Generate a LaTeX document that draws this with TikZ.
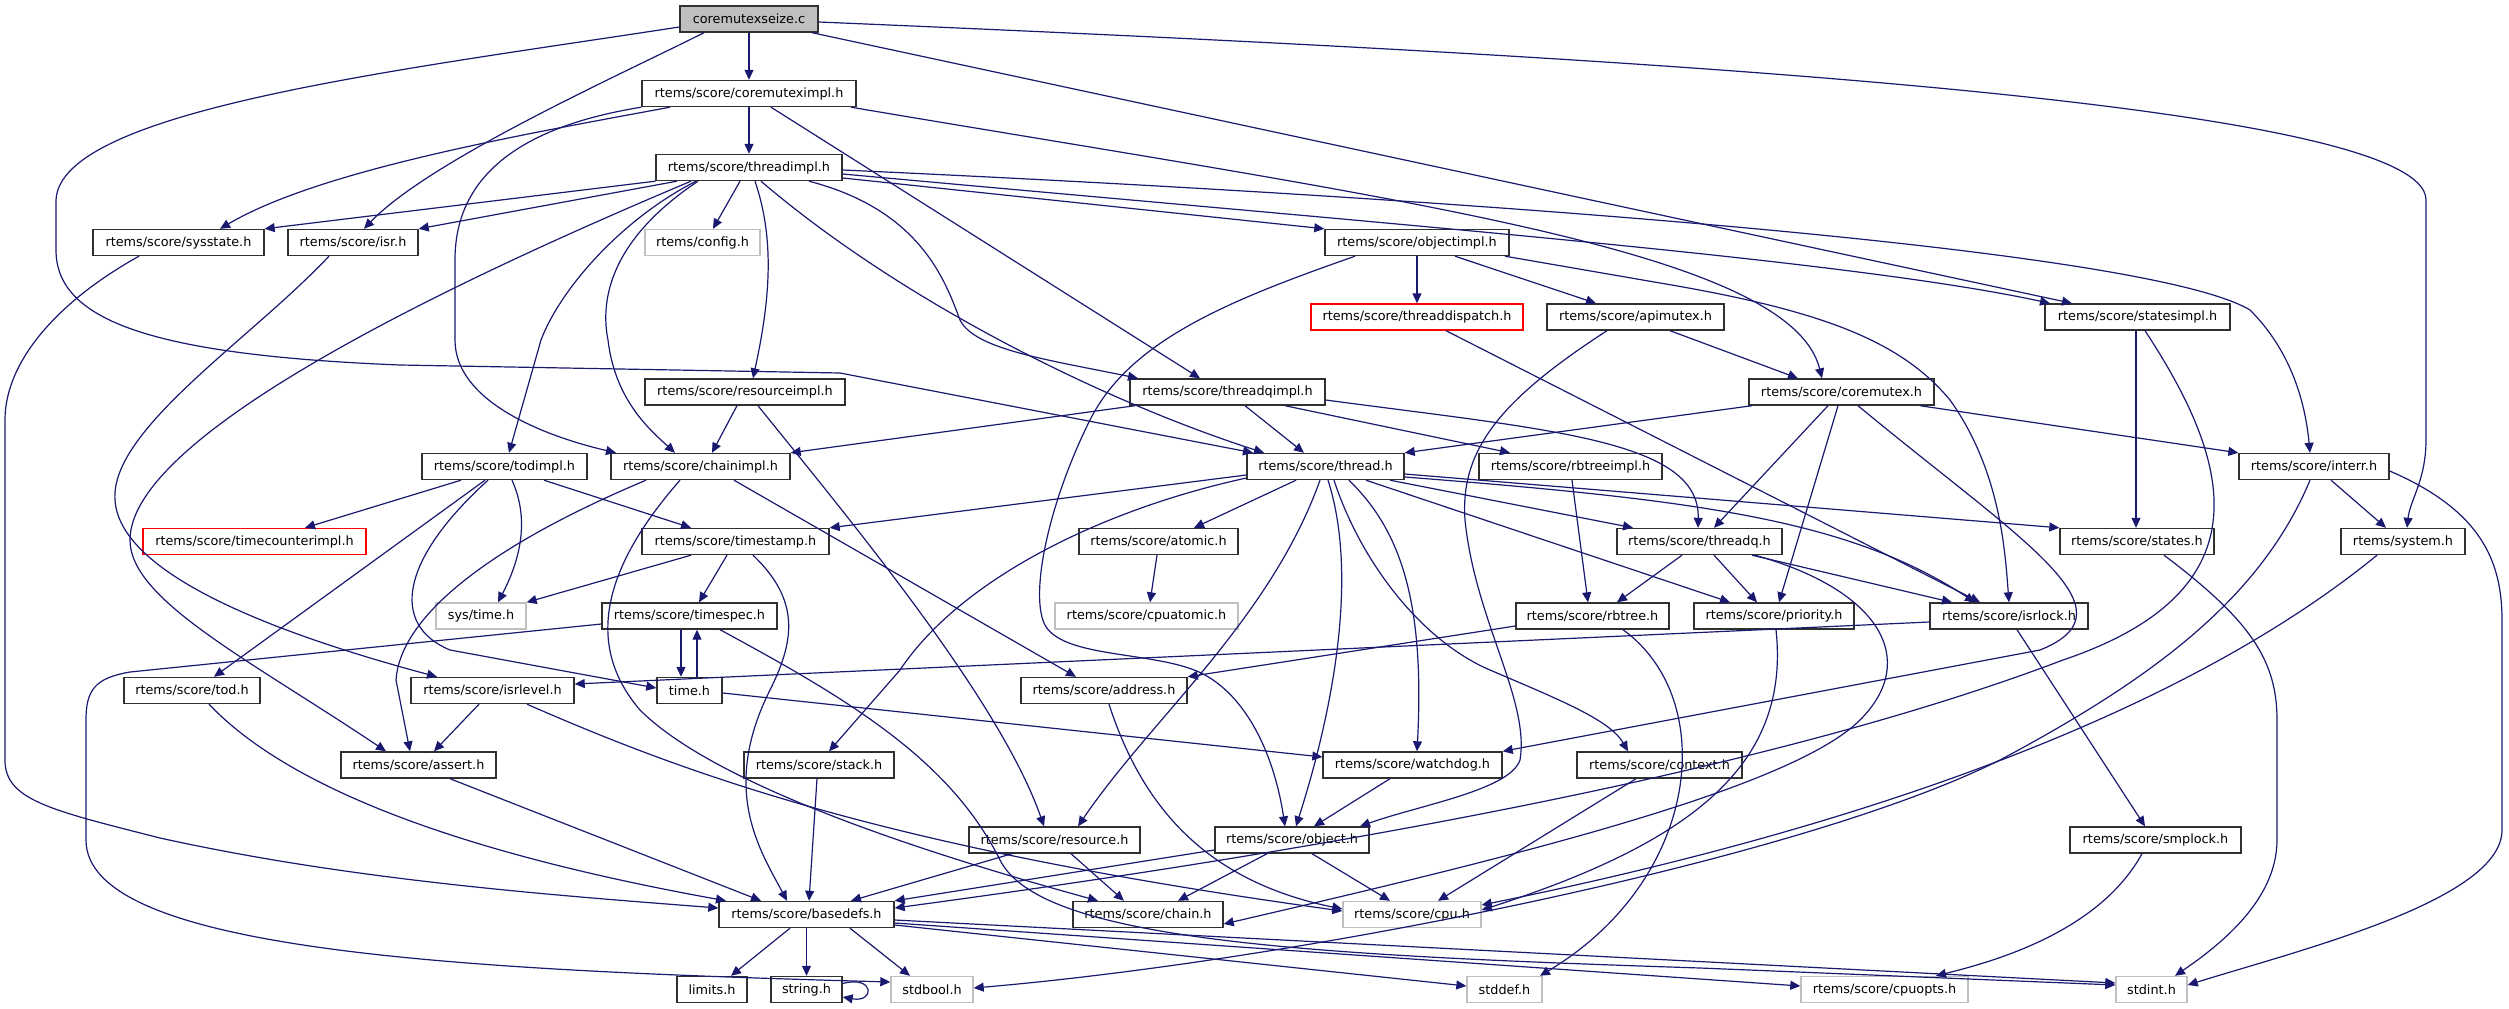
\documentclass[tikz,border=0pt]{standalone}
\usepackage{fontspec}
\setmainfont{DejaVu Sans}
\usetikzlibrary{arrows.meta}
\definecolor{edgec}{HTML}{191970}
\definecolor{grayb}{HTML}{BFBFBF}
\definecolor{nodeb}{HTML}{303030}
\begin{document}
\begin{tikzpicture}[x=1pt,y=-1pt,
  nd/.style={draw=nodeb, line width=1.4pt, fill=white, minimum height=26pt, inner sep=0pt, font=\fontsize{12.8pt}{15pt}\selectfont},
  gr/.style={nd, draw=grayb},
  rd/.style={nd, draw=red},
  e/.style={draw=edgec, line width=1.2pt, -{Triangle[length=10pt,width=9pt]}}]
\fill[white] (0,0) rectangle (2509,1009);
\useasboundingbox (0,0) rectangle (2509,1009);
% nodes
\node[nd, fill=grayb, minimum width=138pt] (seize) at (749,19) {coremutexseize.c};
\node[nd, minimum width=214pt] (cmi) at (749,93.5) {rtems/score/coremuteximpl.h};
\node[nd, minimum width=186pt] (thi) at (749,167.5) {rtems/score/threadimpl.h};
\node[nd, minimum width=171pt] (sysst) at (178.5,242.5) {rtems/score/sysstate.h};
\node[nd, minimum width=130pt] (isr) at (353,242.5) {rtems/score/isr.h};
\node[gr, minimum width=115pt] (config) at (702.5,242.5) {rtems/config.h};
\node[nd, minimum width=184pt] (obji) at (1417,242.5) {rtems/score/objectimpl.h};
\node[rd, minimum width=212pt] (tdisp) at (1417,317) {rtems/score/threaddispatch.h};
\node[nd, minimum width=177pt] (apim) at (1635.5,317) {rtems/score/apimutex.h};
\node[nd, minimum width=185pt] (sti) at (2137.5,317) {rtems/score/statesimpl.h};
\node[nd, minimum width=200pt] (resi) at (745,392) {rtems/score/resourceimpl.h};
\node[nd, minimum width=195pt] (tqi) at (1227.5,392) {rtems/score/threadqimpl.h};
\node[nd, minimum width=185pt] (cm) at (1841.5,392) {rtems/score/coremutex.h};
\node[nd, minimum width=165pt] (todi) at (504.5,466.5) {rtems/score/todimpl.h};
\node[nd, minimum width=179pt] (chi) at (700.5,466.5) {rtems/score/chainimpl.h};
\node[nd, minimum width=157pt] (thr) at (1325.5,466.5) {rtems/score/thread.h};
\node[nd, minimum width=183pt] (rbi) at (1570.5,466.5) {rtems/score/rbtreeimpl.h};
\node[nd, minimum width=150pt] (interr) at (2314,466.5) {rtems/score/interr.h};
\node[rd, minimum width=223pt] (tci) at (254.5,541.5) {rtems/score/timecounterimpl.h};
\node[nd, minimum width=187pt] (tstamp) at (735.5,541.5) {rtems/score/timestamp.h};
\node[nd, minimum width=159pt] (atomic) at (1158.5,541.5) {rtems/score/atomic.h};
\node[nd, minimum width=165pt] (tq) at (1699.5,541.5) {rtems/score/threadq.h};
\node[nd, minimum width=154pt] (states) at (2137,541.5) {rtems/score/states.h};
\node[nd, minimum width=124pt] (system) at (2403,541.5) {rtems/system.h};
\node[gr, minimum width=90pt] (systime) at (481,616) {sys/time.h};
\node[nd, minimum width=175pt] (tspec) at (689.5,616) {rtems/score/timespec.h};
\node[gr, minimum width=183pt] (cpuat) at (1146.5,616) {rtems/score/cpuatomic.h};
\node[nd, minimum width=153pt] (rbt) at (1592.5,616) {rtems/score/rbtree.h};
\node[nd, minimum width=160pt] (prio) at (1774,616) {rtems/score/priority.h};
\node[nd, minimum width=158pt] (isrl) at (2009,616) {rtems/score/isrlock.h};
\node[nd, minimum width=136pt] (tod) at (192,690.5) {rtems/score/tod.h};
\node[nd, minimum width=163pt] (isrlev) at (492.5,690.5) {rtems/score/isrlevel.h};
\node[nd, minimum width=65pt] (time) at (689.5,690.5) {time.h};
\node[nd, minimum width=166pt] (addr) at (1104,690.5) {rtems/score/address.h};
\node[nd, minimum width=155pt] (assert) at (418.5,765) {rtems/score/assert.h};
\node[nd, minimum width=150pt] (stack) at (819,765) {rtems/score/stack.h};
\node[nd, minimum width=179pt] (wdog) at (1412.5,765) {rtems/score/watchdog.h};
\node[nd, minimum width=165pt] (ctx) at (1659.5,765) {rtems/score/context.h};
\node[nd, minimum width=171pt] (res) at (1054.5,840) {rtems/score/resource.h};
\node[nd, minimum width=154pt] (obj) at (1292,840) {rtems/score/object.h};
\node[nd, minimum width=171pt] (smp) at (2155.5,840) {rtems/score/smplock.h};
\node[nd, minimum width=175pt] (bdefs) at (806.5,914.5) {rtems/score/basedefs.h};
\node[nd, minimum width=150pt] (chain) at (1148,914.5) {rtems/score/chain.h};
\node[gr, minimum width=138pt] (cpu) at (1412,914.5) {rtems/score/cpu.h};
\node[nd, minimum width=70pt] (limits) at (712,989.5) {limits.h};
\node[nd, minimum width=71pt] (string) at (806.5,989.5) {string.h};
\node[gr, minimum width=82pt] (stdbool) at (932,989.5) {stdbool.h};
\node[gr, minimum width=75pt] (stddef) at (1504.5,989.5) {stddef.h};
\node[gr, minimum width=167pt] (cpuopts) at (1884.5,989.5) {rtems/score/cpuopts.h};
\node[gr, minimum width=71pt] (stdint) at (2151.5,989.5) {stdint.h};
% edges: coremutexseize.c
\draw[e] (seize.south) -- (cmi.north);
\draw[e] ([xshift=-45pt]seize.south) .. controls (620,75) and (430,160) .. ([xshift=11pt]isr.north);
\draw[e] ([yshift=-8pt]seize.west) .. controls (400,70) and (60,110) .. (56,200) -- (56,250) .. controls (56,320) and (150,355) .. (400,365) -- (840,373) -- ([xshift=-72.5pt]thr.north);
\draw[e] ([xshift=63pt]seize.south) -- ([xshift=-65.5pt]sti.north);
\draw[e] ([yshift=-3pt]seize.east) .. controls (1600,55) and (2426,100) .. (2426,200) -- (2426,440) .. controls (2426,480) and (2410,500) .. ([xshift=4pt]system.north);
% coremuteximpl.h
\draw[e] (cmi.south) -- (thi.north);
\draw[e] ([xshift=-79pt]cmi.south) .. controls (520,135) and (320,170) .. ([xshift=41.5pt]sysst.north);
\draw[e] (cmi.south west) .. controls (500,130) and (455,190) .. (455,260) -- (455,340) .. controls (455,400) and (540,435) .. ([xshift=-84.5pt]chi.north);
\draw[e] ([xshift=22pt]cmi.south) -- ([xshift=-27.5pt]tqi.north);
\draw[e] ([xshift=102pt]cmi.south) .. controls (1400,200) and (1790,250) .. ([xshift=-19.5pt]cm.north);
% threadimpl.h
\draw[e] (thi.south west) -- (sysst.north east);
\draw[e] ([xshift=-72pt]thi.south) -- (isr.north east);
\draw[e] ([xshift=-58pt]thi.south) .. controls (480,270) and (130,430) .. (130,540) .. controls (130,600) and (250,660) .. ([xshift=-32.5pt]assert.north);
\draw[e] ([xshift=-53pt]thi.south) .. controls (620,220) and (560,290) .. (541,340) -- ([xshift=4.5pt]todi.north);
\draw[e] ([xshift=-51pt]thi.south) .. controls (610,240) and (600,300) .. (608,340) .. controls (615,400) and (650,430) .. ([xshift=-25.5pt]chi.north);
\draw[e] ([xshift=-9pt]thi.south) -- ([xshift=10.5pt]config.north);
\draw[e] ([xshift=6pt]thi.south) .. controls (775,240) and (770,300) .. ([xshift=8pt]resi.north);
\draw[e] ([xshift=12pt]thi.south) .. controls (900,300) and (1100,400) .. ([xshift=-61.5pt]thr.north);
\draw[e] ([xshift=60pt]thi.south) .. controls (920,210) and (945,280) .. (960,320) .. controls (975,350) and (1050,360) .. ([xshift=-89.5pt]tqi.north);
\draw[e] ([yshift=-10.5pt]thi.east) -- (obji.north west);
\draw[e] ([yshift=-6.5pt]thi.east) .. controls (1400,225) and (1850,260) .. ([xshift=-87.5pt]sti.north);
\draw[e] ([yshift=-2.5pt]thi.east) .. controls (1500,200) and (2150,250) .. (2250,310) .. controls (2290,350) and (2305,400) .. ([xshift=-4pt]interr.north);
% objectimpl.h and friends
\draw[e] (obji.south) -- (tdisp.north);
\draw[e] ([xshift=38pt]obji.south) -- ([xshift=-39.5pt]apim.north);
\draw[e] ([xshift=-62pt]obji.south) .. controls (1230,300) and (1130,340) .. (1090,420) .. controls (1050,500) and (1030,590) .. (1044,623) .. controls (1060,660) and (1160,650) .. (1205,675) .. controls (1250,700) and (1275,760) .. ([xshift=-7pt]obj.north);
\draw[e] ([xshift=88pt]obji.south) -- (1660,283) .. controls (1820,310) and (1900,340) .. (1950,400) .. controls (2000,470) and (2005,550) .. (isrl.north);
\draw[e] ([xshift=29pt]tdisp.south) -- ([xshift=-29pt]isrl.north);
\draw[e] ([xshift=34.5pt]apim.south) -- ([xshift=-43.5pt]cm.north);
\draw[e] ([xshift=-28.5pt]apim.south) .. controls (1500,400) and (1460,450) .. (1465,520) .. controls (1475,620) and (1530,700) .. (1520,760) .. controls (1510,790) and (1420,805) .. ([xshift=68pt]obj.north);
% statesimpl.h
\draw[e] ([xshift=-1.5pt]sti.south) -- ([xshift=-1pt]states.north);
\draw[e] ([xshift=7.5pt]sti.south) .. controls (2230,460) and (2270,590) .. (2063,660) .. controls (1800,760) and (1400,840) .. ([yshift=6.5pt]bdefs.east);
% resourceimpl.h
\draw[e] ([xshift=-8pt]resi.south) -- ([xshift=11.5pt]chi.north);
\draw[e] ([xshift=13pt]resi.south) .. controls (850,520) and (1000,700) .. ([xshift=-10.5pt]res.north);
% threadqimpl.h
\draw[e] ([xshift=-92.5pt]tqi.south) -- (chi.north east);
\draw[e] ([xshift=17.5pt]tqi.south) -- ([xshift=-21.5pt]thr.north);
\draw[e] ([xshift=57.5pt]tqi.south) -- ([xshift=-60.5pt]rbi.north);
\draw[e] ([yshift=-8pt]tqi.east) .. controls (1550,430) and (1700,440) .. ([xshift=-1.5pt]tq.north);
% coremutex.h
\draw[e] ([xshift=-89.5pt]cm.south) -- (thr.north east);
\draw[e] ([xshift=-13.5pt]cm.south) -- ([xshift=14.5pt]tq.north);
\draw[e] ([xshift=-3.5pt]cm.south) -- ([xshift=5pt]prio.north);
\draw[e] ([xshift=16.5pt]cm.south) .. controls (2020,540) and (2140,610) .. (2040,650) -- (wdog.north east);
\draw[e] ([xshift=78.5pt]cm.south) -- (interr.north west);
% thread.h
\draw[e] ([yshift=-8.5pt]thr.west) -- (tstamp.north east);
\draw[e] ([yshift=-11.5pt]thr.west) .. controls (1100,510) and (960,580) .. (900,670) -- ([xshift=10pt]stack.north);
\draw[e] ([xshift=-29.5pt]thr.south) -- ([xshift=35.5pt]atomic.north);
\draw[e] ([xshift=-5.5pt]thr.south) .. controls (1270,620) and (1150,720) .. ([xshift=23.5pt]res.north);
\draw[e] ([xshift=2.5pt]thr.south) .. controls (1360,580) and (1330,720) .. ([xshift=4pt]obj.north);
\draw[e] ([xshift=8.5pt]thr.south) .. controls (1360,560) and (1420,640) .. (1490,670) .. controls (1560,700) and (1610,720) .. ([xshift=-31.5pt]ctx.north);
\draw[e] ([xshift=23.5pt]thr.south) .. controls (1400,530) and (1425,600) .. ([xshift=4.5pt]wdog.north);
\draw[e] ([xshift=40.5pt]thr.south) -- ([xshift=-44pt]prio.north);
\draw[e] ([xshift=64.5pt]thr.south) -- ([xshift=-66.5pt]tq.north);
\draw[e] ([yshift=-7.5pt]thr.east) -- (states.north west);
\draw[e] ([yshift=-10.5pt]thr.east) .. controls (1700,500) and (1850,520) .. ([xshift=-34pt]isrl.north);
% rbtree / threadq / priority
\draw[e] ([xshift=1.5pt]rbi.south) -- ([xshift=-4.5pt]rbt.north);
\draw[e] ([xshift=-17.5pt]tq.south) -- ([xshift=24.5pt]rbt.north);
\draw[e] ([xshift=14.5pt]tq.south) -- ([xshift=-17pt]prio.north);
\draw[e] ([xshift=52.5pt]tq.south) -- ([xshift=-57pt]isrl.north);
\draw[e] ([xshift=55.5pt]tq.south) .. controls (1880,590) and (1920,660) .. (1860,720) .. controls (1790,790) and (1500,860) .. ([yshift=-9.5pt]chain.east);
\draw[e] ([xshift=2pt]prio.south) .. controls (1790,760) and (1700,840) .. ([yshift=4.5pt]cpu.east);
% system / interr / states
\draw[e] ([xshift=-26pt]system.south) .. controls (2200,700) and (1900,820) .. ([yshift=9.5pt]cpu.east);
\draw[e] ([xshift=-4pt]interr.south) .. controls (2260,600) and (2150,680) .. (2000,760) .. controls (1800,860) and (1300,960) .. ([yshift=1.5pt]stdbool.east);
\draw[e] ([xshift=17pt]interr.south) -- ([xshift=-17pt]system.north);
\draw[e] ([yshift=-4.5pt]interr.east) .. controls (2480,510) and (2502,560) .. (2502,620) -- (2502,830) .. controls (2502,900) and (2300,950) .. ([yshift=4.5pt]stdint.east);
\draw[e] ([xshift=27pt]states.south) .. controls (2250,620) and (2277,660) .. (2277,720) -- (2277,840) .. controls (2277,900) and (2220,945) .. ([xshift=23.5pt]stdint.north);
% isrlock / smplock
\draw[e] ([yshift=-6pt]isrl.west) -- ([yshift=6.5pt]isrlev.east);
\draw[e] ([xshift=8pt]isrl.south) -- ([xshift=-10.5pt]smp.north);
\draw[e] ([xshift=-13.5pt]smp.south) .. controls (2100,930) and (2000,960) .. ([xshift=51.5pt]cpuopts.north);
\draw[e] ([yshift=-10pt]rbt.west) -- (addr.north east);
\draw[e] ([xshift=30.5pt]rbt.south) .. controls (1720,700) and (1700,880) .. ([xshift=35.5pt]stddef.north);
% timestamp / timespec / time
\draw[e] ([xshift=-44.5pt]tstamp.south) -- (systime.north east);
\draw[e] ([xshift=-8.5pt]tstamp.south) -- ([xshift=9.5pt]tspec.north);
\draw[e] ([xshift=17.5pt]tstamp.south) .. controls (800,600) and (795,640) .. (770,690) .. controls (720,790) and (760,850) .. ([xshift=-19.5pt]bdefs.north);
\draw[e] ([xshift=-8.5pt]tspec.south) -- ([xshift=-8.5pt]time.north);
\draw[e] ([xshift=7.5pt]time.north) -- ([xshift=7.5pt]tspec.south);
\draw[e] ([yshift=-8pt]tspec.west) -- (130,672) .. controls (95,678) and (86,690) .. (86,720) -- (86,840) .. controls (86,950) and (450,970) .. ([yshift=7.5pt]stdbool.west);
\draw[e] ([xshift=30.5pt]tspec.south) .. controls (850,700) and (950,760) .. (1000,860) .. controls (1040,940) and (1300,955) .. (1700,968) -- ([yshift=4.5pt]stdint.west);
\draw[e] ([yshift=-2.5pt]time.east) -- ([yshift=8pt]wdog.west);
% todimpl.h
\draw[e] ([xshift=-43.5pt]todi.south) -- ([xshift=50.5pt]tci.north);
\draw[e] ([xshift=-19.5pt]todi.south) -- ([xshift=22pt]tod.north);
\draw[e] ([xshift=-16.5pt]todi.south) .. controls (400,560) and (390,625) .. (450,650) -- ([yshift=2.5pt]time.west);
\draw[e] ([xshift=7.5pt]todi.south) .. controls (530,520) and (520,560) .. ([xshift=17pt]systime.north);
\draw[e] ([xshift=39.5pt]todi.south) -- ([xshift=-44.5pt]tstamp.north);
% chainimpl.h
\draw[e] ([xshift=-54.5pt]chi.south) .. controls (480,550) and (400,620) .. (396,680) -- ([xshift=-8.5pt]assert.north);
\draw[e] ([xshift=-20.5pt]chi.south) .. controls (610,560) and (580,640) .. (640,710) .. controls (720,790) and (950,860) .. ([xshift=-50pt]chain.north);
\draw[e] ([xshift=33.5pt]chi.south) -- ([xshift=-28pt]addr.north);
% isr / sysstate
\draw[e] ([xshift=-24pt]isr.south) .. controls (250,340) and (110,430) .. (115,500) .. controls (120,580) and (300,640) .. ([xshift=-55.5pt]isrlev.north);
\draw[e] ([xshift=-39.5pt]sysst.south) .. controls (60,300) and (5,360) .. (5,420) -- (5,760) .. controls (5,800) and (50,810) .. (160,838) .. controls (350,880) and (550,895) .. ([yshift=6.5pt]bdefs.west);
% lower rows
\draw[e] ([xshift=17pt]tod.south) .. controls (300,800) and (500,860) .. ([xshift=-80.5pt]bdefs.north);
\draw[e] ([xshift=-13.5pt]isrlev.south) -- ([xshift=15.5pt]assert.north);
\draw[e] ([xshift=34.5pt]isrlev.south) .. controls (700,780) and (900,850) .. ([yshift=3.5pt]cpu.west);
\draw[e] ([xshift=31.5pt]assert.south) -- ([xshift=-45.5pt]bdefs.north);
\draw[e] ([xshift=-2pt]stack.south) -- ([xshift=2.5pt]bdefs.north);
\draw[e] ([xshift=-42.5pt]res.south) -- ([xshift=44.5pt]bdefs.north);
\draw[e] ([xshift=16.5pt]res.south) -- ([xshift=-24pt]chain.north);
\draw[e] ([yshift=-10pt]obj.west) -- (bdefs.north east);
\draw[e] ([xshift=-25pt]obj.south) -- ([xshift=30pt]chain.north);
\draw[e] ([xshift=20pt]obj.south) -- ([xshift=-22pt]cpu.north);
\draw[e] ([xshift=-22.5pt]wdog.south) -- ([xshift=22pt]obj.north);
\draw[e] ([xshift=-23.5pt]ctx.south) -- ([xshift=26pt]cpu.north);
\draw[e] ([xshift=5pt]addr.south) .. controls (1140,800) and (1200,880) .. ([yshift=5.5pt]cpu.west);
\draw[e] ([xshift=-1.5pt]atomic.south) -- ([xshift=3.5pt]cpuat.north);
% basedefs.h
\draw[e] ([xshift=-16.5pt]bdefs.south) -- ([xshift=19pt]limits.north);
\draw[e] (bdefs.south) -- (string.north);
\draw[e] ([xshift=43.5pt]bdefs.south) -- ([xshift=-22pt]stdbool.north);
\draw[e] ([yshift=-10.5pt]bdefs.east) -- ([yshift=3.5pt]stddef.west);
\draw[e] ([yshift=-8.5pt]bdefs.east) -- ([yshift=3.5pt]cpuopts.west);
\draw[e] ([yshift=-5.5pt]bdefs.east) -- ([yshift=6.5pt]stdint.west);
\draw[e] ([yshift=6pt]string.east) .. controls (875,975) and (875,1003) .. ([yshift=-7.5pt]string.east);
\end{tikzpicture}
\end{document}
